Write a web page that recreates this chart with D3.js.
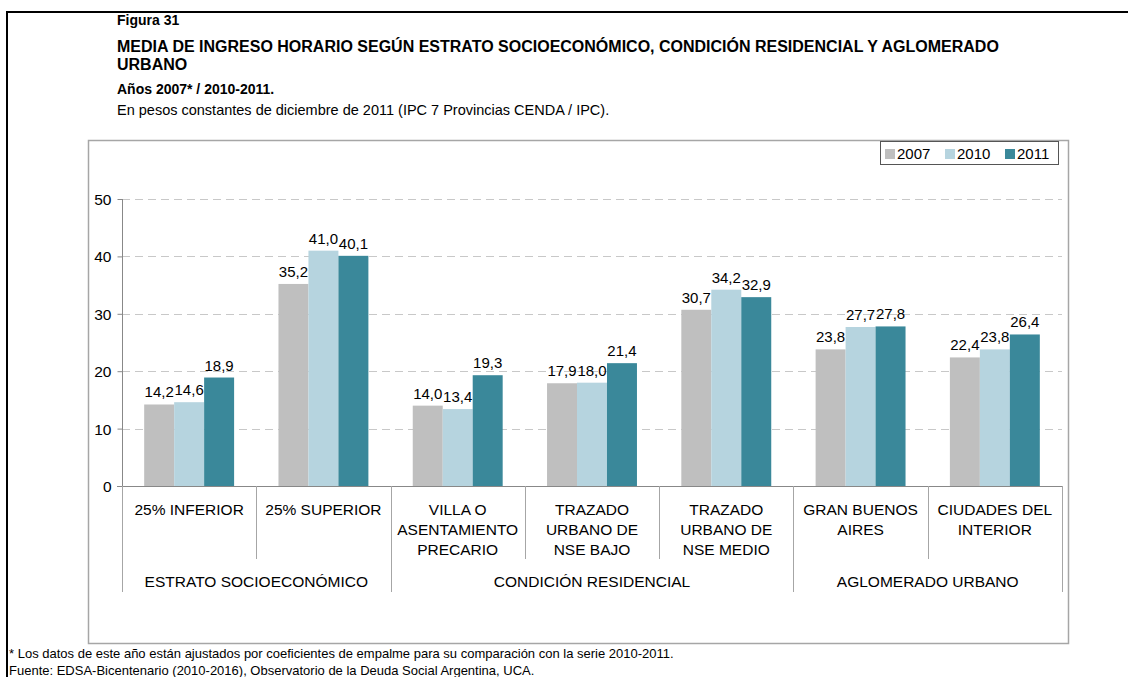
<!DOCTYPE html>
<html>
<head>
<meta charset="utf-8">
<script src="https://cdn.jsdelivr.net/npm/d3@7"></script>
<style>
  body { margin: 0; background: #fff; }
  svg { display: block; font-family: "Liberation Sans", Arial, sans-serif; }
</style>
</head>
<body>
<div id="container"></div>
<script>
// data
let categories = ["25% INFERIOR", "25% SUPERIOR", "VILLA O ASENTAMIENTO PRECARIO",
  "TRAZADO URBANO DE NSE BAJO", "TRAZADO URBANO DE NSE MEDIO", "GRAN BUENOS AIRES", "CIUDADES DEL INTERIOR"];
let categoryLines = [["25% INFERIOR"], ["25% SUPERIOR"], ["VILLA O", "ASENTAMIENTO", "PRECARIO"],
  ["TRAZADO", "URBANO DE", "NSE BAJO"], ["TRAZADO", "URBANO DE", "NSE MEDIO"],
  ["GRAN BUENOS", "AIRES"], ["CIUDADES DEL", "INTERIOR"]];
let groups = ["ESTRATO SOCIOECONÓMICO", "CONDICIÓN RESIDENCIAL", "AGLOMERADO URBANO"];
let groupSizes = [2, 3, 2];
let years = ["2007", "2010", "2011"];
let values2007 = [14.2, 35.2, 14.0, 17.9, 30.7, 23.8, 22.4];
let values2010 = [14.6, 41.0, 13.4, 18.0, 34.2, 27.7, 23.8];
let values2011 = [18.9, 40.1, 19.3, 21.4, 32.9, 27.8, 26.4];
let yTicks = [0, 10, 20, 30, 40, 50];

let colors = {"2007": "#bfbfbf", "2010": "#b6d4df", "2011": "#3a889a"};
let seriesValues = {"2007": values2007, "2010": values2010, "2011": values2011};

let w = 1128;
let h = 677;

let svg = d3.select("#container")
  .append("svg")
    .attr("width", w)
    .attr("height", h);

// page frame (top and left black rule)
svg.append("line").attr("x1", 6).attr("x2", w).attr("y1", 12).attr("y2", 12)
  .attr("stroke", "#000").attr("stroke-width", 2);
svg.append("line").attr("x1", 7).attr("x2", 7).attr("y1", 11).attr("y2", h)
  .attr("stroke", "#000").attr("stroke-width", 2);

// titles
let titles = [
  {t: "Figura 31", y: 25, size: 14, bold: true},
  {t: "MEDIA DE INGRESO HORARIO SEGÚN ESTRATO SOCIOECONÓMICO, CONDICIÓN RESIDENCIAL Y AGLOMERADO", y: 52, size: 16, bold: true},
  {t: "URBANO", y: 70, size: 16, bold: true},
  {t: "Años 2007* / 2010-2011.", y: 94, size: 14, bold: true},
  {t: "En pesos constantes de diciembre de 2011 (IPC 7 Provincias CENDA / IPC).", y: 115, size: 14.5, bold: false}
];
svg.selectAll(".title").data(titles).enter().append("text")
  .attr("x", 117).attr("y", d => d.y)
  .attr("font-size", d => d.size)
  .attr("font-weight", d => d.bold ? "bold" : "normal")
  .attr("fill", "#000")
  .text(d => d.t);

// chart box
svg.append("rect").attr("x", 88.5).attr("y", 140.5).attr("width", 980).attr("height", 503)
  .attr("fill", "none").attr("stroke", "#a6a6a6").attr("stroke-width", 1.5);

// footnotes
svg.append("text").attr("x", 9).attr("y", 658).attr("font-size", 13)
  .text("* Los datos de este año están ajustados por coeficientes de empalme para su comparación con la serie 2010-2011.");
svg.append("text").attr("x", 9).attr("y", 675).attr("font-size", 13)
  .text("Fuente: EDSA-Bicentenario (2010-2016), Observatorio de la Deuda Social Argentina, UCA.");

// scales
let x0 = d3.scaleBand().domain(categories).range([122, 1062]).paddingInner(0).paddingOuter(0);
let x1 = d3.scaleBand().domain(years).range([0, x0.bandwidth()]).paddingInner(0).paddingOuter(0.74);
let y = d3.scaleLinear().domain([0, 50]).range([486, 199]);

// gridlines
svg.append("g").selectAll("line").data(yTicks.filter(d => d > 0)).enter().append("line")
  .attr("x1", 122).attr("x2", 1062)
  .attr("y1", d => Math.round(y(d)) + 0.5).attr("y2", d => Math.round(y(d)) + 0.5)
  .attr("stroke", "#c8c8c8").attr("stroke-dasharray", "8,5");

// y axis
let yAxis = d3.axisLeft(y).tickValues(yTicks).tickSize(5).tickFormat(d3.format("d"));
let yAxisGroup = svg.append("g").attr("transform", "translate(122.5,0)").call(yAxis);
yAxisGroup.select(".domain").attr("stroke", "#888").attr("d", "M0,486.5V199");
yAxisGroup.selectAll("line").attr("stroke", "#888");
yAxisGroup.selectAll("text").attr("font-size", 15.5).attr("fill", "#000")
  .attr("font-family", "Liberation Sans, Arial, sans-serif").attr("x", -11).attr("dy", "0.35em");

// bars
let rows = categories.map((c, i) => ({cat: c, i: i}));
let catGroups = svg.append("g").selectAll(".datapoint").data(rows).enter().append("g")
  .classed("datapoint", true)
  .attr("transform", d => "translate(" + x0(d.cat) + ",0)");

catGroups.selectAll("rect").data(d => years.map(yr => ({yr: yr, v: seriesValues[yr][d.i]})))
  .enter().append("rect")
    .attr("x", d => x1(d.yr))
    .attr("width", x1.bandwidth())
    .attr("y", d => y(d.v))
    .attr("height", d => y(0) - y(d.v))
    .attr("fill", d => colors[d.yr]);

catGroups.selectAll(".lbl").data(d => years.map(yr => ({yr: yr, v: seriesValues[yr][d.i]})))
  .enter().append("text")
    .attr("x", d => x1(d.yr) + x1.bandwidth() / 2)
    .attr("y", d => y(d.v) - 7)
    .attr("text-anchor", "middle")
    .attr("font-size", 15)
    .text(d => d3.format(".1f")(d.v).replace(".", ","));

// category axis
svg.append("line").attr("x1", 117).attr("x2", 1062).attr("y1", 486.5).attr("y2", 486.5)
  .attr("stroke", "#888");

let boundaries = [];
let k = 0;
groupSizes.forEach(s => { boundaries.push(k); k += s; });
boundaries.push(k);

// separators between categories
categories.forEach((c, i) => {
  let isGroupEdge = boundaries.indexOf(i) >= 0;
  svg.append("line")
    .attr("x1", Math.round(x0(c)) + 0.5).attr("x2", Math.round(x0(c)) + 0.5)
    .attr("y1", 486).attr("y2", isGroupEdge ? 592 : 559)
    .attr("stroke", "#a6a6a6");
});
svg.append("line").attr("x1", 1062.5).attr("x2", 1062.5).attr("y1", 486).attr("y2", 592)
  .attr("stroke", "#a6a6a6");

// category labels
categories.forEach((c, i) => {
  let t = svg.append("text").attr("text-anchor", "middle").attr("font-size", 15.5);
  categoryLines[i].forEach((ln, j) => {
    t.append("tspan").attr("x", x0(c) + x0.bandwidth() / 2).attr("y", 515 + j * 20).text(ln);
  });
});

// group labels
groups.forEach((g, gi) => {
  let a = x0(categories[boundaries[gi]]);
  let b = x0(categories[boundaries[gi + 1] - 1]) + x0.bandwidth();
  svg.append("text").attr("x", (a + b) / 2).attr("y", 587)
    .attr("text-anchor", "middle").attr("font-size", 15.5).text(g);
});

// legend
let legend = svg.append("g");
legend.append("rect").attr("x", 880.5).attr("y", 141.5).attr("width", 178).attr("height", 23)
  .attr("fill", "#fff").attr("stroke", "#555");
let legendX = [885, 945, 1005];
years.forEach((yr, i) => {
  legend.append("rect").attr("x", legendX[i]).attr("y", 149).attr("width", 10).attr("height", 10)
    .attr("fill", colors[yr]);
  legend.append("text").attr("x", legendX[i] + 12).attr("y", 159).attr("font-size", 15).text(yr);
});
</script>
</body>
</html>
